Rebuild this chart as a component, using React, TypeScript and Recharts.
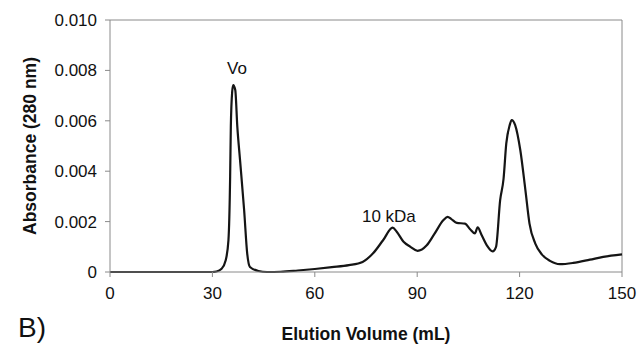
import React from 'react';
import {
  LineChart,
  Line,
  XAxis,
  YAxis,
  ReferenceLine,
  ReferenceDot,
  Label,
} from 'recharts';

// elution volume (mL) and absorbance
const volume = [
  0, 10, 20, 30, 31.2, 32.7, 33.9, 34.7, 35.2, 35.4, 35.8, 36.1, 36.7, 37.3, 38.1, 39.3, 40.2,
  41.0, 43.5, 46, 50, 55, 60, 65, 70, 74, 77, 80, 82.8, 84, 86, 88, 90.1, 92.8, 95, 97.7,
  98.9, 100, 101.6, 104, 105.5, 106.9, 107.7, 108.9, 110.4, 112.1, 113.1, 114.3, 115.3,
  116.1, 117.1, 117.7, 118.7, 120.2, 121.7, 122.9, 124.6, 126.5, 128.9, 131.8, 135.7,
  140.6, 144.5, 150,
];
const absorbance = [
  0, 0, 0, 0, 0.00002, 0.00013, 0.00047, 0.00126, 0.0038, 0.00577, 0.00716, 0.00742,
  0.00722, 0.00577, 0.00444, 0.00245, 0.00073, 0.0002, 0.00004, 0, 0.00001, 0.00006,
  0.00012, 0.00019, 0.00027, 0.0004, 0.00073, 0.00126, 0.00176, 0.0016, 0.0012, 0.001,
  0.00084, 0.00106, 0.0015, 0.00206, 0.00219, 0.0021, 0.00195, 0.00192, 0.0017, 0.00153,
  0.00177, 0.00146, 0.00106, 0.00082, 0.001, 0.00285, 0.0037, 0.0051, 0.00583, 0.00603,
  0.00583, 0.00484, 0.00325, 0.00192, 0.00113, 0.0007, 0.00044, 0.00031, 0.00036,
  0.00049, 0.0006, 0.0007,
];

const xTicks = [0, 30, 60, 90, 120, 150];
const yTicks = [0, 0.002, 0.004, 0.006, 0.008, 0.01];

// peak annotations: [volume, absorbance, text]
const peakLabels: [number, number, string][] = [
  [37.2, 0.0081, 'Vo'],
  [81.7, 0.00221, '10 kDa'],
];

const data = volume.map((v, i) => ({ v, a: absorbance[i] }));

const font = 'Arial, "Liberation Sans", Helvetica, sans-serif';
const tickStyle = { fontSize: 17, fill: '#111', fontFamily: font };

export default function App() {
  return (
    <div style={{ position: 'absolute', left: 0, top: 0, width: 638, height: 345, background: '#fff', fontFamily: font }}>
      <LineChart width={638} height={345} data={data} margin={{ top: 20, right: 16, bottom: 0, left: 0 }}>
        <XAxis
          dataKey="v"
          type="number"
          domain={[0, 150]}
          ticks={xTicks}
          stroke="#8a8a8a"
          tickSize={5}
          tickMargin={10}
          tick={tickStyle}
          height={73}
        >
          <Label
            value="Elution Volume (mL)"
            position="insideBottom"
            offset={5}
            style={{ fontSize: 17.5, fontWeight: 'bold', fill: '#111', fontFamily: font }}
          />
        </XAxis>
        <YAxis
          type="number"
          domain={[0, 0.01]}
          ticks={yTicks}
          stroke="#8a8a8a"
          tickSize={5}
          tickMargin={8}
          tick={tickStyle}
          width={110}
          tickFormatter={(t: number) => (t === 0 ? '0' : t.toFixed(3))}
        >
          <Label
            value="Absorbance (280 nm)"
            angle={-90}
            position="insideLeft"
            offset={30}
            style={{ fontSize: 17.5, fontWeight: 'bold', fill: '#111', fontFamily: font, textAnchor: 'middle' }}
          />
        </YAxis>
        <ReferenceLine y={0.01} stroke="#8a8a8a" />
        <ReferenceLine x={150} stroke="#8a8a8a" />
        <Line
          type="monotone"
          dataKey="a"
          stroke="#151515"
          strokeWidth={2.2}
          dot={false}
          isAnimationActive={false}
        />
        {peakLabels.map(([v, a, t]) => (
          <ReferenceDot
            key={t}
            x={v}
            y={a}
            r={0}
            stroke="none"
            label={{ value: t, position: 'center', style: { fontSize: 17, fill: '#111', fontFamily: font } }}
          />
        ))}
      </LineChart>
      <div style={{ position: 'absolute', left: 18, top: 312, fontSize: 28, lineHeight: '32px', color: '#111', fontFamily: font }}>B)</div>
    </div>
  );
}
